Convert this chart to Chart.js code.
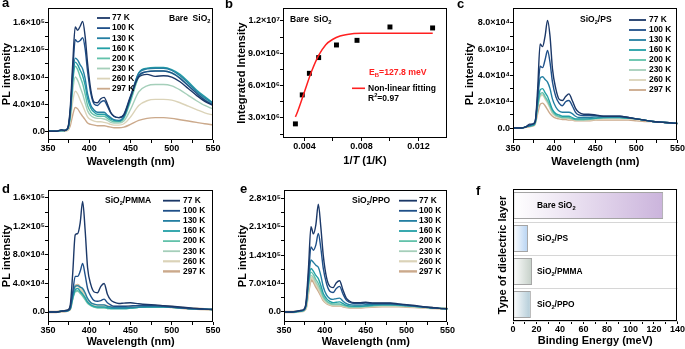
<!DOCTYPE html>
<html>
<head>
<meta charset="utf-8">
<script src="https://cdn.jsdelivr.net/npm/chart.js@4.4.1/dist/chart.umd.min.js"></script>
<style>
  body { margin: 0; background: #fff; width: 685px; height: 349px; position: relative; overflow: hidden;
         font-family: "Liberation Sans", Arial, sans-serif; }
  canvas { position: absolute; }
  .lab { position: absolute; font-weight: bold; font-size: 13px; line-height: 13px; }
</style>
</head>
<body>
<canvas id="ca" width="225" height="175" style="left:0;top:0"></canvas>
<canvas id="cb" width="230" height="175" style="left:225px;top:0"></canvas>
<canvas id="cc" width="230" height="175" style="left:455px;top:0"></canvas>
<canvas id="cd" width="225" height="174" style="left:0;top:175px"></canvas>
<canvas id="ce" width="230" height="174" style="left:225px;top:175px"></canvas>
<canvas id="cf" width="230" height="174" style="left:455px;top:175px"></canvas>
<div class="lab" style="left:2px;top:-4px">a</div>
<div class="lab" style="left:225px;top:-3px">b</div>
<div class="lab" style="left:457px;top:-3px">c</div>
<div class="lab" style="left:2px;top:182px">d</div>
<div class="lab" style="left:240px;top:182px">e</div>
<div class="lab" style="left:476px;top:184px">f</div>
<script>
// ---------- data ----------
const wavelengths = [350, 360, 366, 370, 374, 377, 380, 383, 386, 389, 392, 395, 398, 402, 406, 410, 414,
  418, 422, 426, 430, 436, 442, 450, 460, 470, 480, 490, 500, 510, 520, 530, 540, 550];
const temperatures = ['77 K', '100 K', '130 K', '160 K', '200 K', '230 K', '260 K', '297 K'];
const tempColors = ['#1b3868', '#1f5089', '#247fa2', '#23a0a6', '#63c2ab', '#a5cfba', '#dbd3b8', '#cba98b'];

// PL spectra in units of 10^3 counts, one row per temperature (77 K ... 297 K)
const bareSiO2PL = [
  [0, 0, 2, 1, 5, 35, 100, 154, 149, 155, 162, 140, 100, 60, 43, 42, 48, 50, 40, 28, 22, 20, 24, 50, 80, 84, 81, 82, 80, 73, 63, 53, 44, 38],
  [0, 0, 2, 1, 4, 30, 88, 135, 132, 134, 138, 122, 88, 55, 40, 38, 43, 45, 37, 27, 22, 20, 25, 52, 82, 88, 89, 89, 86, 78, 67, 56, 46, 39],
  [0, 0, 1, 1, 4, 28, 80, 108, 105, 98, 92, 78, 55, 38, 31, 28, 28, 28, 24, 20, 17, 16, 22, 50, 86, 92, 93, 93, 90, 82, 71, 59, 49, 41],
  [0, 0, 1, 1, 4, 26, 76, 102, 98, 90, 82, 68, 48, 34, 28, 25, 25, 25, 22, 18, 16, 15, 21, 48, 86, 93, 94, 94, 91, 84, 73, 61, 51, 42],
  [0, 0, 1, 1, 3, 24, 72, 96, 91, 80, 70, 55, 38, 28, 24, 22, 22, 22, 19, 16, 14, 14, 19, 44, 80, 88, 89, 89, 86, 79, 68, 57, 47, 39],
  [0, 0, 1, 1, 3, 20, 60, 80, 75, 65, 55, 42, 30, 23, 20, 19, 19, 18, 16, 13, 12, 12, 15, 32, 58, 67, 69, 69, 67, 61, 53, 45, 38, 33],
  [0, 0, 0, 1, 2, 15, 44, 59, 55, 46, 38, 29, 21, 17, 15, 14, 14, 13, 12, 10, 9, 9, 11, 21, 38, 45, 47, 47, 46, 42, 37, 32, 27, 24],
  [0, 0, 0, 0, 1, 8, 24, 35, 33, 27, 22, 17, 12, 10, 9, 8, 8, 8, 7, 6, 5, 5, 6, 10, 16, 19, 20, 20, 19, 17, 15, 13, 11, 9.5]
];
const psPL = [
  [0, 0, 1, 3, 3, 5, 30, 64, 62, 70, 82, 70, 45, 30, 22, 21, 24, 26, 21, 15, 12, 10.5, 10.5, 10, 9, 9, 9, 8, 7, 6, 5, 4.5, 4, 3.5],
  [0, 0, 1, 2, 3, 5, 24, 47, 46, 52, 59, 50, 35, 24, 19, 17, 20, 21, 17, 12, 10, 9.5, 9.5, 9.5, 9, 9, 9, 8, 7, 6, 5, 4.5, 4, 3.5],
  [0, 0, 1, 2, 3, 5, 22, 38, 39, 37, 35, 30, 22, 16, 13, 12, 12, 12, 11, 9, 8, 8, 8, 8.5, 8.5, 8.5, 8.5, 8, 7, 6, 5, 4.5, 4, 3.5],
  [0, 0, 1, 1.5, 2, 4, 18, 29, 30, 27, 24, 19, 14, 11, 10, 9, 9, 9, 8, 7, 7, 7, 7, 7.5, 8, 8, 8, 7.5, 7, 6, 5, 4.5, 4, 3.5],
  [0, 0, 1, 1.5, 2, 4, 17, 26, 27, 24, 21, 17, 13, 10, 9, 8, 8, 8, 7, 6.5, 6.5, 6.5, 7, 7.5, 8, 8, 8, 7.5, 7, 6, 5, 4.5, 4, 3.5],
  [0, 0, 1, 1.5, 2, 4, 16, 25, 26, 23, 20, 16, 12, 9.5, 8.5, 8, 8, 7.5, 7, 6.5, 6, 6, 6.5, 7, 7.5, 8, 8, 7.5, 7, 6, 5, 4.5, 4, 3.5],
  [0, 0, 1, 1.5, 2, 4, 15, 24, 25, 22, 19, 15, 11, 9, 8, 7.5, 7.5, 7, 6.5, 6, 6, 6, 6, 6.5, 7, 7, 7, 7, 6.5, 6, 5, 4.5, 4, 3.5],
  [0, 0, 0.5, 1, 1.5, 3, 11, 18, 19, 17, 14, 11, 9, 7.5, 7, 6.5, 6.5, 6, 6, 5.5, 5.5, 5.5, 5.5, 6, 6, 6, 6, 6, 5.5, 5, 5, 4.5, 4, 3.5]
];
const pmmaPL = [
  [0, 0, 1, 2, 3, 10, 55, 108, 110, 125, 155, 115, 62, 38, 28, 27, 36, 40, 25, 17, 14, 12, 12.5, 13, 11.5, 10.5, 10, 9, 8, 7, 6, 5, 4, 3.5],
  [0, 0, 1, 1.5, 2, 6, 28, 50, 50, 57, 68, 52, 33, 22, 16, 15, 16, 18, 13, 10, 8, 8, 8, 8.5, 9, 9, 9, 8, 7, 6, 5, 4.5, 4, 3.5],
  [0, 0, 1, 1, 2, 5, 24, 36, 37, 35, 33, 27, 19, 13, 11, 10, 10, 10, 8, 7, 6, 6, 6, 6.5, 7, 7.5, 7.5, 7.5, 7, 6, 5, 4.5, 4, 3.5],
  [0, 0, 1, 1, 2, 5, 20, 31, 33, 29, 25, 20, 14, 10, 8, 7, 7, 7, 6, 5, 5, 5, 5, 5.5, 6.5, 7, 7, 7, 6.5, 6, 5, 4.5, 4, 3.5],
  [0, 0, 1, 1, 2, 4, 19, 29, 30, 27, 23, 18, 13, 9, 7, 6, 6, 6, 5, 5, 5, 5, 5, 5.5, 6.5, 7, 7, 7, 6.5, 6, 5, 4.5, 4, 3.5],
  [0, 0, 1, 1, 2, 4, 18, 28, 29, 26, 22, 17, 12, 9, 7, 6, 6, 6, 5, 5, 5, 5, 5, 5.5, 6.5, 7, 7, 7, 6.5, 6, 5, 4.5, 4, 3.5],
  [0, 0, 1, 1, 2, 5, 22, 35, 37, 33, 28, 21, 15, 11, 9, 8, 8, 8, 7, 6, 6, 6, 6, 6.5, 7.5, 8, 8, 8, 7, 6, 5, 4.5, 4, 3.5],
  [0, 0, 1, 1, 2, 5, 23, 36, 38, 34, 29, 22, 16, 12, 10, 9, 9, 9, 8, 7, 7, 7, 7, 7.5, 8, 8.5, 8.5, 8, 7, 6, 5, 4.5, 4, 3.5]
];
const ppoPL = [
  [0, 0, 2, 4, 6, 25, 110, 210, 192, 215, 265, 210, 140, 85, 63, 60, 72, 77, 55, 35, 27, 23, 23, 24, 22, 22, 22, 20, 18, 16, 13, 11, 9, 8],
  [0, 0, 2, 3, 5, 20, 90, 160, 152, 165, 193, 158, 108, 70, 51, 48, 58, 63, 45, 30, 24, 21, 21, 22, 21, 21, 21, 19, 17, 15, 13, 11, 9, 8],
  [0, 0, 1, 3, 5, 18, 80, 128, 122, 115, 110, 90, 62, 42, 33, 31, 33, 34, 27, 21, 18, 17, 17, 18, 19, 19, 19, 18, 16, 14, 12, 10, 9, 8],
  [0, 0, 1, 2, 4, 16, 72, 107, 100, 90, 82, 66, 46, 33, 26, 23, 24, 25, 21, 17, 15, 14, 14, 15, 17, 18, 18, 17, 16, 14, 12, 10, 9, 8],
  [0, 0, 1, 2, 4, 15, 68, 98, 92, 80, 70, 56, 39, 28, 22, 20, 20, 20, 17, 15, 13, 13, 13, 14, 16, 17, 17, 16, 15, 14, 12, 10, 9, 8],
  [0, 0, 1, 2, 4, 14, 63, 90, 85, 73, 63, 50, 35, 25, 20, 18, 18, 18, 16, 14, 12, 12, 12, 13, 15, 16, 16, 16, 15, 13, 12, 10, 9, 8],
  [0, 0, 1, 2, 4, 13, 58, 85, 80, 68, 58, 46, 33, 23, 19, 17, 17, 17, 15, 13, 12, 12, 12, 13, 14, 15, 15, 15, 14, 13, 11, 10, 9, 8],
  [0, 0, 1, 2, 3, 12, 53, 78, 75, 63, 53, 42, 30, 22, 18, 16, 16, 16, 14, 12, 11, 11, 11, 12, 13, 14, 14, 14, 13, 12, 11, 10, 9, 8]
];

// panel b: integrated intensity vs 1/T and the fitted curve
const inverseT = [0.00337, 0.00385, 0.00435, 0.005, 0.00625, 0.00769, 0.01, 0.01299];
const integratedIntensity = [2.45e6, 5.14e6, 7.14e6, 8.6e6, 9.77e6, 1.02e7, 1.144e7, 1.135e7];
const fitInverseT = [0.00337, 0.0035, 0.004, 0.0045, 0.005, 0.0055, 0.006, 0.0065, 0.007, 0.008, 0.01, 0.013];
const fitIntensity = [3.1e6, 3.5e6, 5.4e6, 7.3e6, 8.8e6, 9.8e6, 1.03e7, 1.06e7, 1.075e7, 1.085e7, 1.086e7, 1.086e7];

// panel f: binding energies
const layers = ['Bare SiO₂', 'SiO₂/PS', 'SiO₂/PMMA', 'SiO₂/PPO'];
const bindingEnergy = [127.8, 12.8, 16.2, 15.2];
const barEndColors = ['#cbb4dc', '#b5d2f2', '#c4cfc7', '#b1cbd7'];

// tick values
const wlTicks = [350, 400, 450, 500, 550];
const wlMinor = [375, 425, 475, 525];
const ticksA = [0, 4e4, 8e4, 1.2e5, 1.6e5];
const ticksC = [0, 2e4, 4e4, 6e4, 8e4];
const ticksE = [0, 7e4, 1.4e5, 2.1e5, 2.8e5];
const ticksBx = [0.004, 0.008, 0.012];
const ticksBy = [3e6, 6e6, 9e6, 1.2e7];
const ticksF = [0, 20, 40, 60, 80, 100, 120, 140];

// ---------- helpers ----------
Chart.defaults.font.family = '"Liberation Sans", Arial, Helvetica, sans-serif';
Chart.defaults.font.weight = 'bold';
Chart.defaults.color = '#000';
const FAM = '"Liberation Sans", Arial, sans-serif';

const SUP = { '0': '⁰', '1': '¹', '2': '²', '3': '³', '4': '⁴', '5': '⁵', '6': '⁶', '7': '⁷', '8': '⁸', '9': '⁹' };
function sci(v) {
  if (v === 0) return '0.0';
  const e = Math.floor(Math.log10(v) + 1e-9);
  return (v / Math.pow(10, e)).toFixed(1) + '×10' + String(e).split('').map(c => SUP[c]).join('');
}
function mids(arr) {
  const out = [];
  for (let i = 0; i < arr.length - 1; i++) out.push((arr[i] + arr[i + 1]) / 2);
  return out;
}
function isMajor(majors, v) {
  return majors.some(m => Math.abs(m - v) < 1e-9 * Math.max(1, Math.abs(m)));
}
function segs(str) {
  return str.split(/([₂²])/).filter(Boolean).map(t =>
    t === '₂' ? { t: '2', sub: true } : t === '²' ? { t: '2', sup: true } : { t });
}
function drawRich(ctx, parts, x, y, size, color, align) {
  const font = p => (p.it ? 'italic ' : '') + 'bold ' + (p.sub || p.sup ? size * 0.68 : size) + 'px ' + FAM;
  const widths = parts.map(p => { ctx.font = font(p); return ctx.measureText(p.t).width; });
  const total = widths.reduce((a, b) => a + b, 0);
  let cx = align === 'center' ? x - total / 2 : x;
  ctx.fillStyle = color;
  ctx.textBaseline = 'middle';
  ctx.textAlign = 'left';
  parts.forEach((p, i) => {
    ctx.font = font(p);
    ctx.fillText(p.t, cx, y + (p.sub ? size * 0.32 : p.sup ? -size * 0.35 : 0));
    cx += widths[i];
  });
}

const frame = {
  id: 'frame',
  afterDatasetsDraw(chart) {
    const { ctx, chartArea: a } = chart;
    ctx.save();
    ctx.strokeStyle = '#000';
    ctx.lineWidth = 1;
    ctx.strokeRect(Math.round(a.left) + 0.5, Math.round(a.top) + 0.5,
      Math.round(a.right - a.left) - 1, Math.round(a.bottom - a.top) - 1);
    ctx.restore();
  }
};

function notes(items) {
  return {
    id: 'notes',
    afterDraw(chart) {
      const ctx = chart.ctx;
      ctx.save();
      items.forEach(n => {
        if (n.line) {
          ctx.strokeStyle = n.color;
          ctx.lineWidth = n.width || 1.5;
          ctx.beginPath();
          ctx.moveTo(n.line[0], n.line[2]);
          ctx.lineTo(n.line[1], n.line[2]);
          ctx.stroke();
        } else {
          drawRich(ctx, n.parts || segs(n.text), n.x, n.y, n.size || 8.5, n.color || '#000', n.align);
        }
      });
      ctx.restore();
    }
  };
}

function tempLegend(L) {
  return {
    id: 'tempLegend',
    afterDraw(chart) {
      const ctx = chart.ctx;
      ctx.save();
      chart.data.datasets.forEach((d, i) => {
        const y = L.y + i * L.dy;
        ctx.strokeStyle = d.borderColor;
        ctx.lineWidth = Math.max(1.8, d.borderWidth);
        ctx.beginPath();
        ctx.moveTo(L.x1, y);
        ctx.lineTo(L.x2, y);
        ctx.stroke();
        drawRich(ctx, [{ t: d.label }], L.tx, y, 8.4, '#000');
      });
      ctx.restore();
    }
  };
}

const tickFont = { size: 9, weight: 'bold' };
const titleFont = { size: 11, weight: 'bold' };

function linearAxis(o) {
  return {
    type: 'linear',
    min: o.min,
    max: o.max,
    afterBuildTicks: s => { s.ticks = o.majors.concat(o.minors).sort((p, q) => p - q).map(v => ({ value: v })); },
    ticks: {
      autoSkip: false, maxRotation: 0, padding: 0, font: tickFont, color: '#000',
      callback: v => isMajor(o.majors, v) ? o.fmt(v) : ''
    },
    grid: { drawOnChartArea: false, drawTicks: true, tickLength: 3, color: '#000' },
    border: { display: false },
    title: o.title ? { display: true, text: o.title, font: titleFont, color: '#000', padding: { top: 0, bottom: o.titlePad || 0 } } : { display: false },
    afterFit: s => { if (o.width) s.width = o.width; if (o.height) s.height = o.height; }
  };
}

function spectrumChart(id, rows, o) {
  return new Chart(document.getElementById(id), {
    type: 'line',
    data: {
      datasets: rows.map((r, i) => ({
        label: temperatures[i],
        data: r.map((v, j) => ({ x: wavelengths[j], y: v * 1e3 })),
        borderColor: tempColors[i],
        borderWidth: o.widths ? o.widths[i] : 1.4,
        pointRadius: 0,
        cubicInterpolationMode: 'monotone',
        fill: false
      }))
    },
    options: {
      responsive: false,
      animation: false,
      layout: { padding: o.pad },
      plugins: { legend: { display: false }, tooltip: { enabled: false } },
      scales: {
        x: linearAxis({ min: 350, max: 550, majors: wlTicks, minors: wlMinor, fmt: v => String(v),
          title: 'Wavelength (nm)', height: o.xHeight, titlePad: o.xTitlePad }),
        y: linearAxis({ min: o.yMin, max: o.yMax, majors: o.yTicks, minors: mids(o.yTicks), fmt: sci,
          title: 'PL intensity', width: o.yWidth })
      }
    },
    plugins: [frame, tempLegend(o.legend), notes(o.notes)]
  });
}

// ---------- panel a ----------
spectrumChart('ca', bareSiO2PL, {
  pad: { left: 0, right: 12, top: 8, bottom: 0 }, yWidth: 48, xHeight: 35, xTitlePad: 6,
  yMin: -1.3e4, yMax: 1.82e5, yTicks: ticksA,
  legend: { x1: 97, x2: 110, tx: 112, y: 18, dy: 10.1 },
  notes: [{ text: 'Bare  SiO₂', x: 169, y: 19 }]
});

// ---------- panel c ----------
spectrumChart('cc', psPL, {
  pad: { left: 8, right: 7, top: 8, bottom: 0 }, yWidth: 50, xHeight: 35, xTitlePad: 6,
  yMin: -9.1e3, yMax: 9.14e4, yTicks: ticksC,
  legend: { x1: 174, x2: 191, tx: 194, y: 20, dy: 10 },
  notes: [{ text: 'SiO₂/PS', x: 125, y: 20 }]
});

// ---------- panel d ----------
spectrumChart('cd', pmmaPL, {
  pad: { left: 0, right: 12, top: 15, bottom: 0 }, yWidth: 48, xHeight: 27, xTitlePad: 0,
  yMin: -1.4e4, yMax: 1.71e5, yTicks: ticksA, widths: [1.4, 1.4, 1.4, 1.4, 1.4, 1.4, 2.2, 2.4],
  legend: { x1: 163, x2: 180, tx: 183, y: 25.7, dy: 10.1 },
  notes: [{ text: 'SiO₂/PMMA', x: 105, y: 25.7 }]
});

// ---------- panel e ----------
spectrumChart('ce', ppoPL, {
  pad: { left: 11, right: 7, top: 15, bottom: 0 }, yWidth: 48, xHeight: 27, xTitlePad: 0,
  yMin: -2.46e4, yMax: 3.0e5, yTicks: ticksE, widths: [1.4, 1.4, 1.4, 1.4, 1.4, 1.4, 2.2, 2.4],
  legend: { x1: 174, x2: 192, tx: 194, y: 25.7, dy: 10.1 },
  notes: [{ text: 'SiO₂/PPO', x: 127, y: 25.7 }]
});

// ---------- panel b ----------
new Chart(document.getElementById('cb'), {
  type: 'scatter',
  data: {
    datasets: [
      {
        type: 'line',
        label: 'Non-linear fitting',
        data: fitInverseT.map((x, i) => ({ x, y: fitIntensity[i] })),
        borderColor: '#ff2020',
        borderWidth: 1.5,
        pointRadius: 0,
        cubicInterpolationMode: 'monotone',
        fill: false
      },
      {
        label: 'Integrated intensity',
        data: inverseT.map((x, i) => ({ x, y: integratedIntensity[i] })),
        pointStyle: 'rect',
        pointRadius: 3.5,
        backgroundColor: '#000',
        borderColor: '#000',
        borderWidth: 0
      }
    ]
  },
  options: {
    responsive: false,
    animation: false,
    layout: { padding: { left: 10, right: 8, top: 8, bottom: 0 } },
    plugins: { legend: { display: false }, tooltip: { enabled: false } },
    scales: {
      x: linearAxis({ min: 0.0025, max: 0.014, majors: ticksBx, minors: [0.006, 0.010], fmt: v => v.toFixed(3), height: 37 }),
      y: linearAxis({ min: 1.14e6, max: 1.32e7, majors: ticksBy, minors: [1.5e6, 4.5e6, 7.5e6, 1.05e7], fmt: sci,
        title: 'Integrated Intensity', width: 48 })
    }
  },
  plugins: [frame, notes([
    { text: 'Bare  SiO₂', x: 65, y: 20 },
    { parts: [{ t: 'E' }, { t: 'B', sub: true }, { t: '=127.8 meV' }], x: 144, y: 73, color: '#ff2020', size: 8.7 },
    { line: [127, 140, 88.3], color: '#ff2020', width: 1.6 },
    { text: 'Non-linear fitting', x: 143, y: 88.3 },
    { text: 'R²=0.97', x: 143, y: 98.5 },
    { parts: [{ t: '1/' }, { t: 'T', it: true }, { t: ' (1/K)' }], x: 140, y: 161, size: 11, align: 'center' }
  ])]
});

// ---------- panel f ----------
const barLabels = {
  id: 'barLabels',
  afterDatasetsDraw(chart) {
    const ctx = chart.ctx;
    ctx.save();
    chart.getDatasetMeta(0).data.forEach((bar, i) => {
      drawRich(ctx, segs(layers[i]), chart.chartArea.left + 24, bar.y, 8.4, '#000');
    });
    ctx.restore();
  }
};

new Chart(document.getElementById('cf'), {
  type: 'bar',
  data: {
    labels: layers,
    datasets: [{
      data: bindingEnergy,
      backgroundColor: c => {
        const chart = c.chart;
        const i = c.dataIndex;
        if (i === undefined || !chart.chartArea || !chart.scales.x) return barEndColors[0];
        const x0 = chart.scales.x.getPixelForValue(0);
        const x1 = chart.scales.x.getPixelForValue(bindingEnergy[i]);
        const g = chart.ctx.createLinearGradient(x0, 0, x1, 0);
        g.addColorStop(0, '#ffffff');
        g.addColorStop(1, barEndColors[i]);
        return g;
      },
      borderColor: '#a4a4a4',
      borderWidth: 1,
      borderSkipped: false,
      barPercentage: 0.82,
      categoryPercentage: 1
    }]
  },
  options: {
    indexAxis: 'y',
    responsive: false,
    animation: false,
    layout: { padding: { left: 41, right: 7, top: 14, bottom: 0 } },
    plugins: { legend: { display: false }, tooltip: { enabled: false } },
    scales: {
      x: linearAxis({ min: 0, max: 140, majors: ticksF, minors: [10, 30, 50, 70, 90, 110, 130], fmt: v => String(v),
        title: 'Binding Energy (meV)', height: 28, titlePad: 1 }),
      y: {
        ticks: { display: false },
        grid: { offset: true, drawTicks: false, color: '#d6d6d6', lineWidth: 1 },
        border: { display: false },
        title: { display: true, text: 'Type of dielectric layer', font: titleFont, color: '#000', padding: 0 },
        afterFit: s => { s.width = 17; }
      }
    }
  },
  plugins: [frame, barLabels]
});
</script>
</body>
</html>
